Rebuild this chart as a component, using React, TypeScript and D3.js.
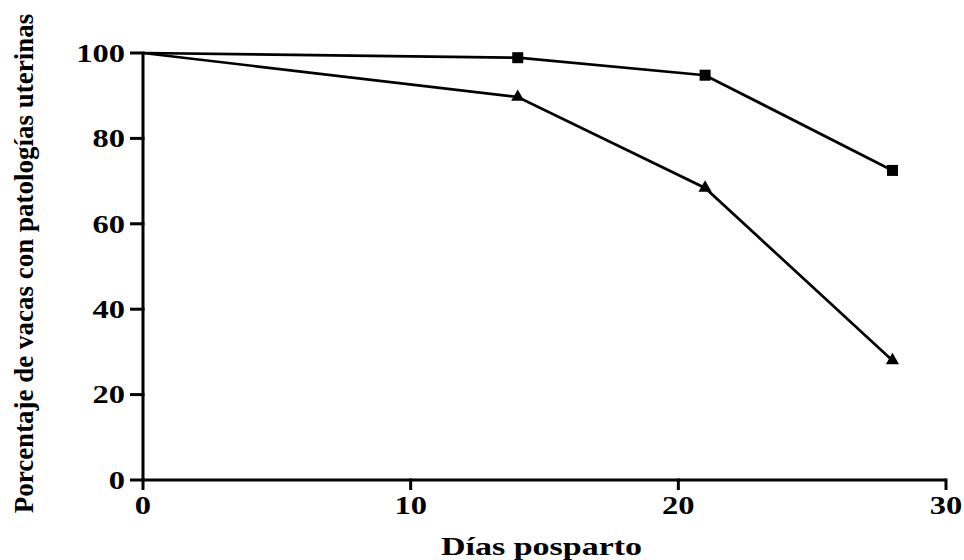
import React from "react";
import * as d3 from "d3";

const days = [0, 14, 21, 28];
const seriesSquare = [100, 98.9, 94.8, 72.5];
const seriesTriangle = [100, 89.7, 68.4, 28];
const xTicks = [0, 10, 20, 30];
const yTicks = [0, 20, 40, 60, 80, 100];
const xTitle = "Días posparto";
const yTitle = "Porcentaje de vacas con patologías uterinas";

const W = 964;
const H = 560;
const margin = { left: 143, right: 18, top: 53, bottom: 80 };
const FONT = "'Liberation Serif', 'Times New Roman', serif";

export default function App() {
  const x = d3.scaleLinear().domain([0, 30]).range([margin.left, W - margin.right]);
  const y = d3.scaleLinear().domain([0, 100]).range([H - margin.bottom, margin.top]);
  const line = d3
    .line<number>()
    .x((_, i) => x(days[i]))
    .y((d) => y(d));
  const sq = 11;
  const tri = d3.symbol(d3.symbolTriangle, 75)() as string;

  return (
    <svg
      width={W}
      height={H}
      style={{ position: "absolute", left: 0, top: 0, background: "#fff" }}
      fontFamily={FONT}
    >
      {/* axes */}
      <line x1={x(0)} x2={x(30)} y1={y(0)} y2={y(0)} stroke="#000" strokeWidth={3} />
      <line x1={x(0)} x2={x(0)} y1={y(0)} y2={y(100)} stroke="#000" strokeWidth={3} />
      {xTicks.map((t) => (
        <g key={"x" + t}>
          <line x1={x(t)} x2={x(t)} y1={y(0) - 1.5} y2={y(0) + 10} stroke="#000" strokeWidth={3} />
          <text
            transform={`translate(${x(t)},${y(0) + 34}) scale(1.3,1)`}
            textAnchor="middle"
            fontSize={25}
            fontWeight="bold"
          >
            {t}
          </text>
        </g>
      ))}
      {yTicks.map((t) => (
        <g key={"y" + t}>
          <line x1={x(0) - 13} x2={x(0) + 1.5} y1={y(t)} y2={y(t)} stroke="#000" strokeWidth={3} />
          <text
            transform={`translate(${x(0) - 18},${y(t)}) scale(1.3,1)`}
            dy="0.35em"
            textAnchor="end"
            fontSize={25}
            fontWeight="bold"
          >
            {t}
          </text>
        </g>
      ))}
      <text
        transform={`translate(${(x(0) + x(30)) / 2 - 3}, ${H - 5}) scale(1.36,1)`}
        textAnchor="middle"
        fontSize={25}
        fontWeight="bold"
      >
        {xTitle}
      </text>
      <text
        transform={`translate(33, ${(y(0) + y(100)) / 2 - 3}) rotate(-90)`}
        textAnchor="middle"
        fontSize={27}
        fontWeight="bold"
      >
        {yTitle}
      </text>

      {/* series */}
      <path d={line(seriesSquare) || ""} fill="none" stroke="#000" strokeWidth={2.7} />
      <path d={line(seriesTriangle) || ""} fill="none" stroke="#000" strokeWidth={2.7} />
      {seriesSquare.map((v, i) =>
        i === 0 ? null : (
          <rect
            key={"s" + i}
            x={x(days[i]) - sq / 2}
            y={y(v) - sq / 2}
            width={sq}
            height={sq}
            fill="#000"
          />
        )
      )}
      {seriesTriangle.map((v, i) =>
        i === 0 ? null : (
          <path key={"t" + i} d={tri} transform={`translate(${x(days[i])},${y(v)})`} fill="#000" />
        )
      )}
    </svg>
  );
}
